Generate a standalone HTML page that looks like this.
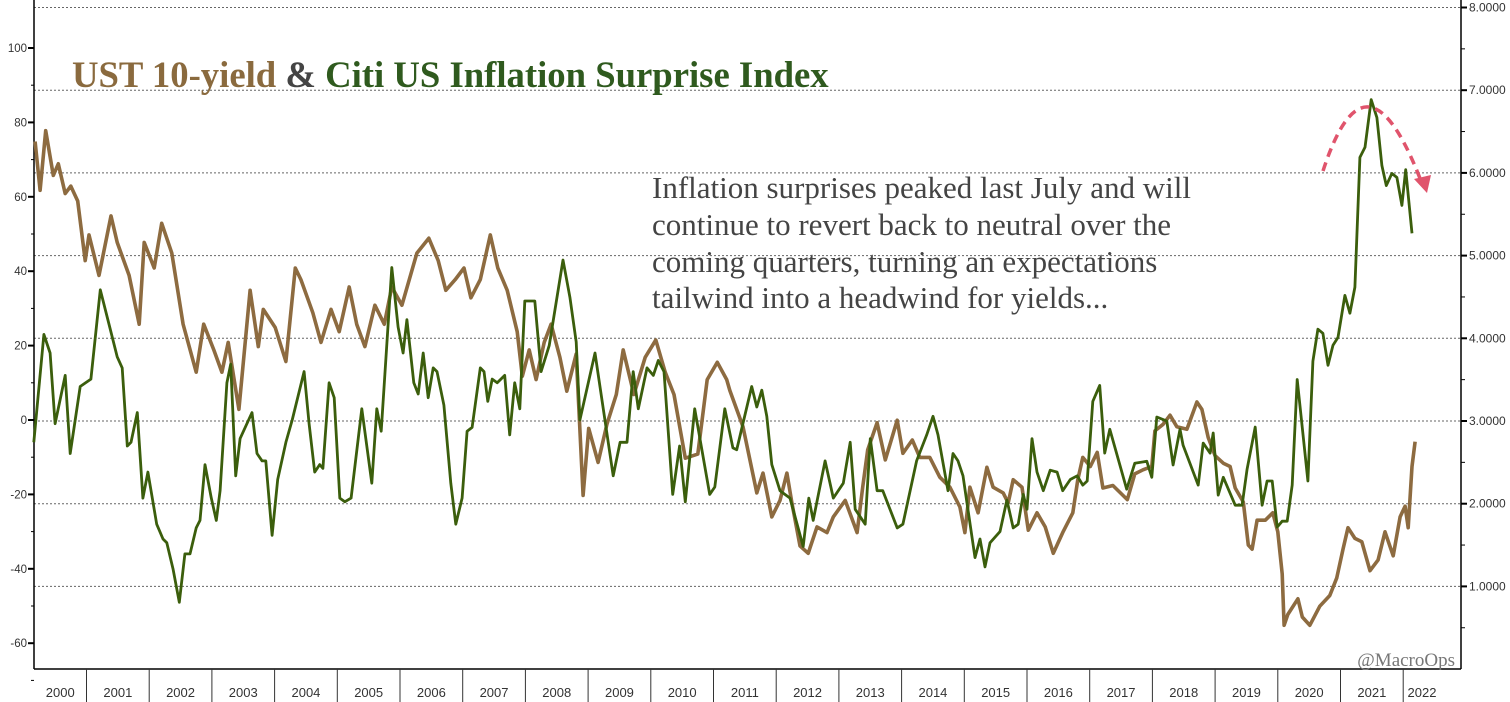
<!DOCTYPE html>
<html><head><meta charset="utf-8"><style>
html,body{margin:0;padding:0;background:#fff;}
svg{display:block;}
</style></head><body>
<svg id="chart" width="1510" height="702" viewBox="0 0 1510 702" xmlns="http://www.w3.org/2000/svg">
<rect x="0" y="0" width="1510" height="702" fill="#fff"/>
<g id="grid"></g>
<g id="axes"></g>
<g id="series"></g>
<text x="72" y="87" font-family="Liberation Serif, serif" font-weight="bold" font-size="36.7"><tspan fill="#8a6a3e">UST 10-yield</tspan><tspan fill="#444"> &amp; </tspan><tspan fill="#2f5a1e">Citi US Inflation Surprise Index</tspan></text>
<g font-family="Liberation Serif, serif" font-size="31" fill="#444">
<text x="652" y="198">Inflation surprises peaked last July and will</text>
<text x="652" y="235">continue to revert back to neutral over the</text>
<text x="652" y="272">coming quarters, turning an expectations</text>
<text x="652" y="308">tailwind into a headwind for yields...</text>
</g>
<path d="M1323,171 Q1366,38 1421,181" fill="none" stroke="#e0546c" stroke-width="3.5" stroke-dasharray="9,6"/>
<polygon points="1414,179 1431,175 1427,193" fill="#e0546c"/>
<text x="1455" y="666" text-anchor="end" font-family="Liberation Serif, serif" font-size="19" fill="#777">@MacroOps</text>
</svg>
<script>
const cesiDates=[2000.16,2000.32,2000.42,2000.50,2000.66,2000.74,2000.90,2001.07,2001.22,2001.37,2001.49,2001.57,2001.65,2001.71,2001.81,2001.90,2001.98,2002.12,2002.22,2002.28,2002.38,2002.48,2002.57,2002.65,2002.75,2002.81,2002.89,2002.99,2003.07,2003.13,2003.24,2003.30,2003.38,2003.45,2003.64,2003.72,2003.80,2003.86,2003.96,2004.05,2004.18,2004.28,2004.47,2004.55,2004.64,2004.72,2004.77,2004.87,2004.95,2005.04,2005.12,2005.22,2005.39,2005.55,2005.63,2005.70,2005.87,2005.97,2006.05,2006.11,2006.22,2006.29,2006.37,2006.45,2006.53,2006.59,2006.70,2006.81,2006.89,2006.99,2007.07,2007.15,2007.28,2007.34,2007.40,2007.47,2007.55,2007.67,2007.75,2007.83,2007.91,2007.99,2008.15,2008.25,2008.38,2008.60,2008.71,2008.81,2008.87,2009.11,2009.40,2009.51,2009.62,2009.72,2009.80,2009.94,2010.04,2010.12,2010.21,2010.35,2010.46,2010.55,2010.70,2010.94,2011.02,2011.18,2011.31,2011.37,2011.61,2011.69,2011.77,2011.85,2011.93,2012.06,2012.22,2012.43,2012.52,2012.59,2012.78,2012.91,2013.07,2013.18,2013.26,2013.42,2013.50,2013.61,2013.70,2013.93,2014.02,2014.24,2014.40,2014.50,2014.58,2014.74,2014.82,2014.90,2014.98,2015.17,2015.25,2015.33,2015.41,2015.57,2015.68,2015.78,2015.86,2015.94,2016.00,2016.08,2016.16,2016.26,2016.37,2016.48,2016.57,2016.69,2016.80,2016.89,2016.96,2017.05,2017.16,2017.24,2017.32,2017.59,2017.72,2017.91,2017.99,2018.07,2018.23,2018.33,2018.44,2018.49,2018.73,2018.81,2018.92,2018.97,2019.05,2019.13,2019.32,2019.43,2019.51,2019.64,2019.75,2019.83,2019.91,2019.99,2020.07,2020.15,2020.23,2020.31,2020.48,2020.56,2020.64,2020.72,2020.80,2020.88,2020.96,2021.07,2021.15,2021.23,2021.31,2021.39,2021.49,2021.58,2021.66,2021.73,2021.82,2021.90,2021.98,2022.04,2022.14];
const cesiValues=[-6,23,18,-1,12,-9,9,11,35,25,17,14,-7,-6,2,-21,-14,-28,-32,-33,-40,-49,-36,-36,-29,-27,-12,-21,-27,-19,10,15,-15,-5,2,-9,-11,-11,-31,-16,-6,0,13,-1,-14,-12,-13,10,6,-21,-22,-21,3,-17,3,-3,41,25,18,27,10,7,18,6,14,13,4,-17,-28,-21,-3,-2,14,13,5,11,10,12,-4,10,3,32,32,13,20,43,33,21,0,18,-15,-6,-6,13,3,14,12,16,13,-20,-7,-22,3,-20,-18,3,-7.5,-8,9,3.5,8,1,-12,-19,-21,-34,-21,-27,-11,-21,-17,-6,-24,-28,-5,-19,-19,-29,-28,-11,-4,1,-4,-19,-9,-11,-15,-37,-32,-39.5,-33,-30,-21.5,-29,-28,-20,-24,-5,-14,-19,-13.5,-14,-19,-16,-15,-17.5,-16.4,5.0,9.3,-8.9,-2.5,-18.6,-11.6,-11.1,-15.4,0.8,-0.3,-12.1,-2.5,-6.8,-17.5,-6.2,-8.9,-3.5,-20.2,-15.4,-22.9,-22.9,-13.2,-1.9,-22.9,-16.4,-16.4,-28.8,-27.2,-27.2,-17.5,10.9,-16.4,15.8,24.4,23.3,14.7,20.1,22.2,33.5,28.7,35.7,70.6,73.3,86.1,81.3,68.4,63.0,66.3,65.2,57.7,67.3,50.2];
const ustDates=[2000.18,2000.26,2000.35,2000.47,2000.55,2000.66,2000.75,2000.86,2000.98,2001.04,2001.20,2001.39,2001.49,2001.68,2001.84,2001.92,2002.08,2002.20,2002.36,2002.54,2002.75,2002.87,2003.03,2003.16,2003.26,2003.43,2003.61,2003.74,2003.82,2004.01,2004.18,2004.33,2004.42,2004.61,2004.74,2004.90,2005.03,2005.19,2005.31,2005.44,2005.60,2005.75,2005.87,2006.03,2006.27,2006.46,2006.61,2006.73,2006.88,2007.02,2007.13,2007.28,2007.44,2007.56,2007.71,2007.87,2007.95,2008.06,2008.17,2008.30,2008.41,2008.55,2008.66,2008.81,2008.92,2009.01,2009.16,2009.30,2009.45,2009.56,2009.73,2009.91,2010.08,2010.23,2010.37,2010.55,2010.75,2010.90,2011.06,2011.21,2011.26,2011.47,2011.69,2011.79,2011.93,2012.06,2012.17,2012.25,2012.38,2012.51,2012.65,2012.81,2012.91,2013.10,2013.29,2013.38,2013.46,2013.61,2013.74,2013.93,2014.02,2014.17,2014.29,2014.45,2014.61,2014.77,2014.93,2015.01,2015.09,2015.22,2015.36,2015.46,2015.62,2015.70,2015.78,2015.92,2016.02,2016.16,2016.29,2016.42,2016.57,2016.73,2016.81,2016.89,2017.01,2017.12,2017.21,2017.37,2017.60,2017.72,2017.85,2017.99,2018.04,2018.17,2018.28,2018.39,2018.55,2018.71,2018.79,2018.89,2019.00,2019.13,2019.24,2019.32,2019.45,2019.53,2019.59,2019.67,2019.80,2019.92,2020.00,2020.07,2020.10,2020.16,2020.32,2020.39,2020.51,2020.67,2020.83,2020.94,2021.04,2021.12,2021.23,2021.34,2021.47,2021.60,2021.71,2021.84,2021.95,2022.03,2022.08,2022.14,2022.19];
const ustValues=[6.38,5.79,6.51,5.97,6.11,5.75,5.84,5.66,4.94,5.25,4.76,5.48,5.16,4.76,4.17,5.16,4.85,5.39,5.03,4.17,3.59,4.17,3.86,3.59,3.95,3.14,4.58,3.9,4.35,4.13,3.72,4.85,4.71,4.31,3.95,4.35,4.08,4.62,4.17,3.9,4.4,4.17,4.62,4.4,5.03,5.21,4.94,4.58,4.71,4.85,4.49,4.71,5.25,4.85,4.58,4.08,3.54,3.86,3.5,3.95,4.17,3.77,3.36,3.81,2.1,2.91,2.5,2.96,3.32,3.86,3.32,3.77,3.98,3.59,3.32,2.55,2.6,3.5,3.71,3.5,3.37,2.93,2.13,2.37,1.84,2.04,2.37,2.01,1.49,1.4,1.72,1.65,1.84,2.04,1.65,2.2,2.65,2.98,2.53,3.01,2.61,2.77,2.56,2.56,2.32,2.2,1.96,1.65,2.2,1.89,2.44,2.2,2.13,2.01,2.29,2.2,1.68,1.89,1.72,1.4,1.65,1.89,2.29,2.56,2.45,2.62,2.19,2.22,2.05,2.36,2.41,2.45,2.88,2.96,3.07,2.93,2.90,3.23,3.14,2.80,2.58,2.49,2.45,2.19,2.02,1.50,1.45,1.80,1.80,1.89,1.66,1.15,0.53,0.66,0.85,0.63,0.53,0.76,0.89,1.10,1.45,1.71,1.58,1.54,1.19,1.32,1.66,1.37,1.84,1.97,1.71,2.45,2.75];
const yearLabels=["2000","2001","2002","2003","2004","2005","2006","2007","2008","2009","2010","2011","2012","2013","2014","2015","2016","2017","2018","2019","2020","2021","2022"];
const leftTicks=[100,80,60,40,20,0,-20,-40,-60];
const rightTicks=["8.0000","7.0000","6.0000","5.0000","4.0000","3.0000","2.0000","1.0000"];

const NS="http://www.w3.org/2000/svg";
const X0=34,X1=1461,YB=669;
function xScale(t){return 86.5+(t-2001)*62.7;}
function yLeft(v){return 420-v*3.72;}
function yRight(v){return 421-(v-3)*82.7;}
function mk(tag,attrs,parent){const e=document.createElementNS(NS,tag);for(const k in attrs)e.setAttribute(k,attrs[k]);parent.appendChild(e);return e;}
const grid=document.getElementById('grid'),axes=document.getElementById('axes'),series=document.getElementById('series');

rightTicks.forEach(l=>{
  const v=parseFloat(l),y=yRight(v);
  const g=mk('line',{x1:X0,x2:X1,y1:y,y2:y,stroke:'#666','stroke-width':1,'stroke-dasharray':'2,2'},grid);
  
  
  const t=mk('line',{x1:X1,x2:X1+6,y1:y,y2:y,stroke:'#000','stroke-width':2},axes);
  
  
  const tx=mk('text',{x:X1+8,y:y+4,'font-family':'Liberation Sans, sans-serif','font-size':12,fill:'#333'},axes);
  tx.textContent=l;
  
  
  const m=mk('line',{x1:X1,x2:X1+4,y1:yRight(v-0.5),y2:yRight(v-0.5),stroke:'#000','stroke-width':1},axes);
  
  
});
leftTicks.forEach(v=>{
  const y=yLeft(v);
  const t=mk('line',{x1:X0-6,x2:X0,y1:y,y2:y,stroke:'#000','stroke-width':2},axes);
  
  
  const m=mk('line',{x1:X0-3,x2:X0,y1:yLeft(v-10),y2:yLeft(v-10),stroke:'#000','stroke-width':1},axes);
  
  
  const tx=mk('text',{x:X0-7,y:y+4,'text-anchor':'end','font-family':'Liberation Sans, sans-serif','font-size':11.5,fill:'#333'},axes);
  tx.textContent=String(v);
  
  
});
const la=mk('line',{x1:X0,x2:X0,y1:0,y2:YB,stroke:'#000','stroke-width':1.5},axes);


const ra=mk('line',{x1:X1,x2:X1,y1:0,y2:YB,stroke:'#000','stroke-width':1.5},axes);


const xa=mk('line',{x1:X0,x2:X1,y1:YB,y2:YB,stroke:'#000','stroke-width':1.5},axes);


yearLabels.forEach(l=>{
  const yr=parseInt(l);
  const xs=Math.max(X0,xScale(yr)),xe=Math.min(X1,xScale(yr+1));
  if(yr>2000){
    const s=mk('line',{x1:xScale(yr),x2:xScale(yr),y1:YB,y2:702,stroke:'#333','stroke-width':1},axes);
    
    
  }
  const cx=yr===2022?1422:(xs+xe)/2;
  const tx=mk('text',{x:cx,y:697,'text-anchor':'middle','font-family':'Liberation Sans, sans-serif','font-size':13,fill:'#333'},axes);
  tx.textContent=l;
  
  
});
function path(dates,vals,ys){return dates.map((d,i)=>(i?'L':'M')+xScale(d).toFixed(1)+','+ys(vals[i]).toFixed(1)).join(' ');}
const pu=mk('path',{d:path(ustDates,ustValues,yRight),fill:'none',stroke:'#8d6b40','stroke-width':3.6,'stroke-linejoin':'round'},series);


const pc=mk('path',{d:path(cesiDates,cesiValues,yLeft),fill:'none',stroke:'#3b5e0c','stroke-width':2.8,'stroke-linejoin':'round'},series);


</script>
</body></html>
